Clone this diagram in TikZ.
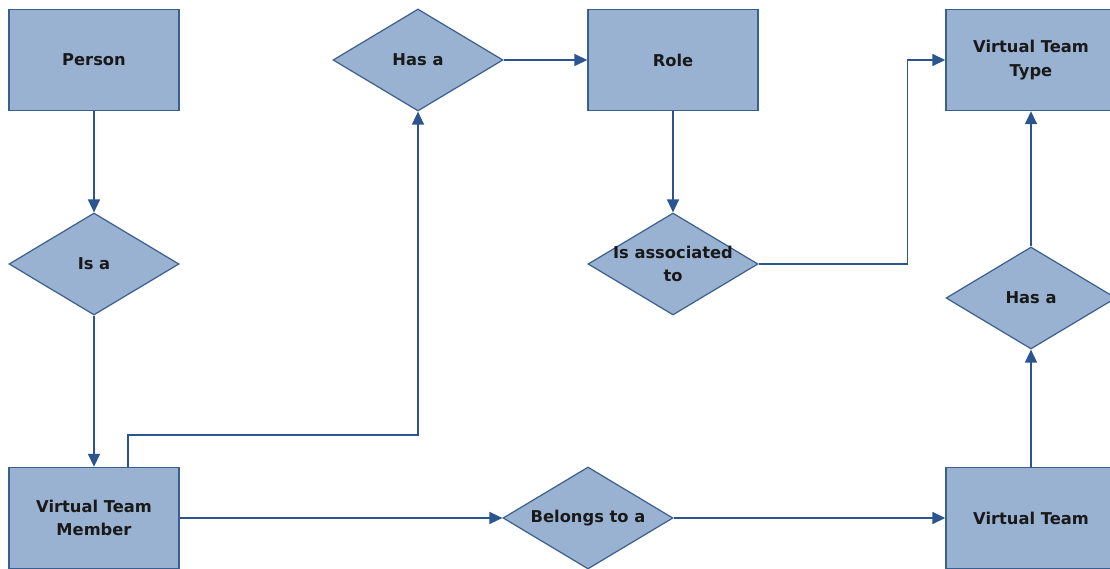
\documentclass[tikz,border=0pt]{standalone}
\usepackage{fontspec}
\setmainfont{DejaVu Sans}
\usetikzlibrary{arrows.meta,shapes.geometric}
\definecolor{boxfill}{HTML}{9AB2D2}
\definecolor{boxline}{HTML}{3A5F8E}
\definecolor{linkcol}{HTML}{2C5590}
\begin{document}
\begin{tikzpicture}[x=1pt,y=-1pt,
  every node/.style={font=\bfseries\fontsize{16.3}{23.5}\selectfont, text=black!90},
  entity/.style={draw=boxline, line width=1.4pt, fill=boxfill, rectangle,
    minimum width=170pt, minimum height=101pt, inner sep=0pt, align=center},
  rel/.style={draw=boxline, line width=1.2pt, fill=boxfill, diamond,
    minimum width=170pt, minimum height=102pt, inner sep=0pt},
  lbl/.style={align=center, inner sep=0pt},
  conn/.style={draw=linkcol, line width=1.5pt,
    -{Triangle[length=13pt,width=12pt]}}]
\useasboundingbox (0,0) rectangle (1110,569);
\fill[white] (0,0) rectangle (1110,569);

% entities
\node[entity] (person) at (94,60) {Person};
\node[entity] (role) at (673,60) {Role};
\node[entity] (vtt) at (1031,60) {Virtual Team\\Type};
\node[entity] (vtm) at (94,518) {Virtual Team\\Member};
\node[entity] (vt) at (1031,518) {Virtual Team};

% relationships
\node[rel, label={[lbl]center:Has a}] (hasrole) at (418,60) {};
\node[rel, label={[lbl]center:Is a}] (isa) at (94,264) {};
\node[rel, label={[lbl]center:Is associated\\to}] (assoc) at (673,264) {};
\node[rel, label={[lbl]center:Has a}] (hastype) at (1031,298) {};
\node[rel, label={[lbl]center:Belongs to a}] (belongs) at (588,518) {};

% connectors
\draw[conn] (person) -- (isa);
\draw[conn] (isa) -- (vtm);
\draw[conn] ([xshift=34pt]vtm.north) -- ++(0,-32) -| (hasrole.south);
\draw[conn] (hasrole) -- (role);
\draw[conn] (role) -- (assoc);
\draw[conn] (assoc.east) -- ++(149,0) |- (vtt.west);
\draw[conn] (vtm) -- (belongs);
\draw[conn] (belongs) -- (vt);
\draw[conn] (vt) -- (hastype);
\draw[conn] (hastype) -- (vtt);
\end{tikzpicture}
\end{document}
